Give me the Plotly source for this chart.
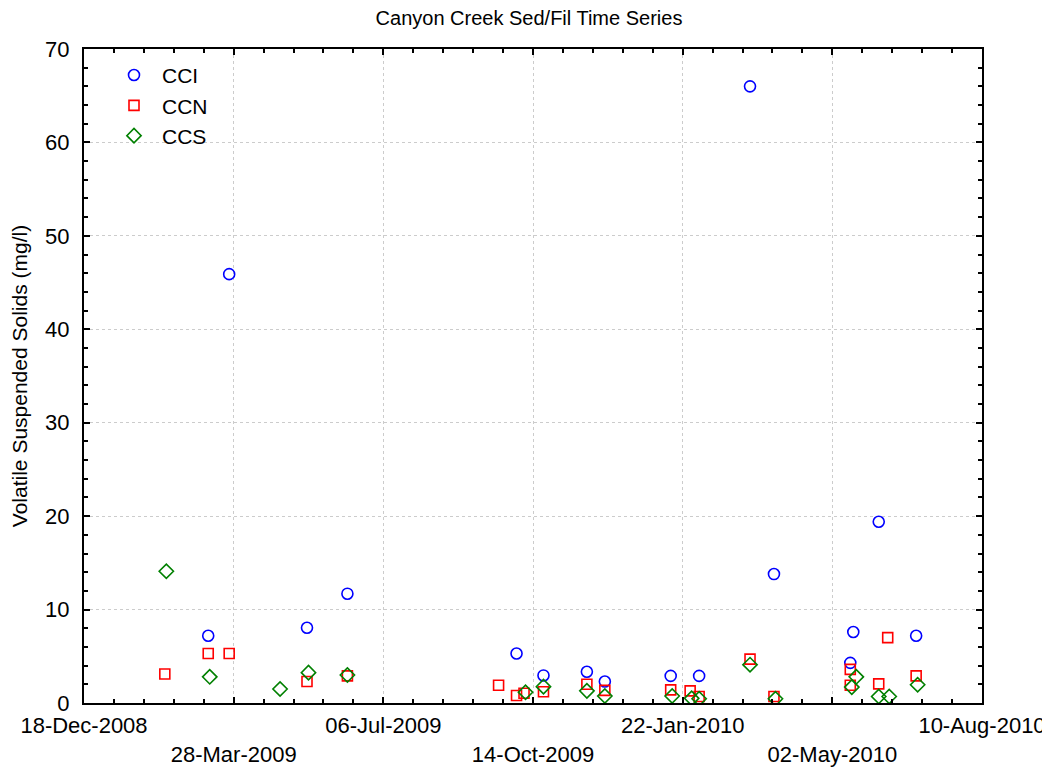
import plotly.graph_objects as go

# ---- data ----
cci_dates = ["2009-03-11", "2009-03-25", "2009-05-16", "2009-06-12", "2009-10-03",
             "2009-10-21", "2009-11-19", "2009-12-01", "2010-01-14", "2010-02-02",
             "2010-03-08", "2010-03-24", "2010-05-14", "2010-05-16", "2010-06-02",
             "2010-06-27"]
cci_vals = [7.2, 45.9, 8.05, 11.7, 5.3, 2.95, 3.35, 2.3, 2.9, 2.9,
            66.0, 13.8, 4.3, 7.6, 19.4, 7.2]

ccn_dates = ["2009-02-10", "2009-03-11", "2009-03-25", "2009-05-16", "2009-06-12",
             "2009-09-21", "2009-10-03", "2009-10-08", "2009-10-21", "2009-11-19",
             "2009-12-01", "2010-01-14", "2010-01-27", "2010-02-02", "2010-03-08",
             "2010-03-24", "2010-05-14", "2010-05-14", "2010-06-02", "2010-06-08",
             "2010-06-27"]
ccn_vals = [3.1, 5.3, 5.3, 2.3, 2.9, 1.9, 0.8, 1.05, 1.2, 2.0,
            1.35, 1.4, 1.3, 0.7, 4.7, 0.7, 3.6, 1.9, 2.05, 7.0, 2.9]

ccs_dates = ["2009-02-11", "2009-03-12", "2009-04-28", "2009-05-17", "2009-06-12",
             "2009-10-09", "2009-10-21", "2009-11-19", "2009-12-01", "2010-01-15",
             "2010-01-28", "2010-02-02", "2010-03-08", "2010-03-25", "2010-05-15",
             "2010-05-18", "2010-06-02", "2010-06-09", "2010-06-28"]
ccs_vals = [14.1, 2.8, 1.5, 3.25, 3.0, 1.15, 1.75, 1.3, 0.75, 0.75,
            0.5, 0.45, 4.1, 0.45, 1.7, 2.8, 0.7, 0.7, 1.95]

x_tickvals = ["2008-12-18", "2009-03-28", "2009-07-06", "2009-10-14",
              "2010-01-22", "2010-05-02", "2010-08-10"]
x_ticklabels = ["18-Dec-2008", "28-Mar-2009", "06-Jul-2009", "14-Oct-2009",
                "22-Jan-2010", "02-May-2010", "10-Aug-2010"]
y_tickvals = [0, 10, 20, 30, 40, 50, 60, 70]

series = [
    ("CCI", cci_dates, cci_vals, "circle-open", "#0000ff", 11),
    ("CCN", ccn_dates, ccn_vals, "square-open", "#ff0000", 10),
    ("CCS", ccs_dates, ccs_vals, "diamond-open", "#008000", 11),
]

FONT = "Liberation Sans, Arial, sans-serif"

fig = go.Figure()
for name, xs, ys, sym, col, sz in series:
    fig.add_trace(go.Scatter(
        x=xs, y=ys, mode="markers", name=name,
        marker=dict(symbol=sym, size=sz, color=col, line=dict(color=col, width=1.6)),
    ))

ticktext = [lab if i % 2 == 0 else "<br>" + lab for i, lab in enumerate(x_ticklabels)]

# page body has an 8px margin, so the figure is sized to fit the 1050x770 window
fig.update_layout(
    width=1042, height=762,
    margin=dict(l=76, r=68, t=41, b=67, autoexpand=False),
    paper_bgcolor="white", plot_bgcolor="white",
    font=dict(family=FONT, size=22, color="black"),
    title=dict(text="Canyon Creek Sed/Fil Time Series", x=0.5, xref="container",
               y=1 - 10 / 762, yref="container", yanchor="middle", xanchor="center",
               font=dict(size=20, color="black")),
    legend=dict(x=0.0245, y=0.991, xanchor="left", yanchor="top",
                bgcolor="rgba(0,0,0,0)", font=dict(size=21), itemwidth=46),
    showlegend=True,
)

fig.update_xaxes(
    type="date", range=["2008-12-18", "2010-08-10"],
    tickmode="array", tickvals=x_tickvals, ticktext=ticktext, tickangle=0,
    showline=True, linecolor="black", linewidth=2, mirror="ticks",
    ticks="inside", ticklen=6, tickwidth=1.5, tickcolor="black",
    ticklabelstandoff=2,
    showgrid=True, gridcolor="#cccccc", griddash="dot", gridwidth=1,
    zeroline=False,
    minor=dict(dtick=86400000 * 20, tick0="2008-12-18", ticks="inside", ticklen=4,
               tickwidth=1.5, tickcolor="black", showgrid=False),
)
fig.update_yaxes(
    range=[0, 70], tickmode="array", tickvals=y_tickvals,
    title=dict(text="Volatile Suspended Solids (mg/l)", standoff=14, font=dict(size=21)),
    showline=True, linecolor="black", linewidth=2, mirror="ticks",
    ticks="inside", ticklen=6, tickwidth=1.5, tickcolor="black",
    ticklabelstandoff=8,
    showgrid=True, gridcolor="#cccccc", griddash="dot", gridwidth=1,
    zeroline=False,
    minor=dict(dtick=2, tick0=0, ticks="inside", ticklen=4, tickwidth=1.5,
               tickcolor="black", showgrid=False),
)

fig.write_html("out.html")
